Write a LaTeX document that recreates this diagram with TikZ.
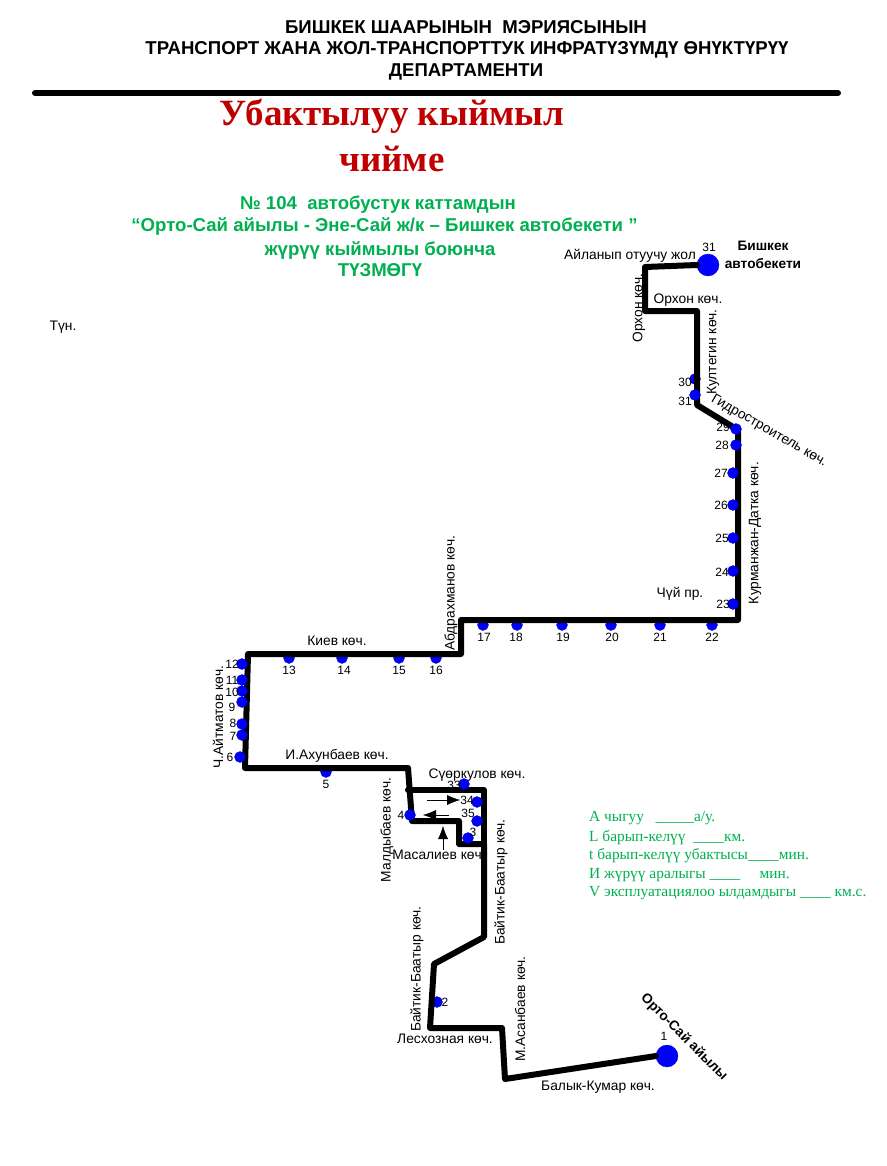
\documentclass[tikz,border=0pt]{standalone}
\usepackage{fontspec}
\setmainfont{Liberation Sans}
\newfontfamily\serifcy{Liberation Serif}
\usepackage{xcolor}
\usepackage{tikz}
\usetikzlibrary{
    arrows.meta
}
\definecolor{routegreen}{RGB}{0,176,80}
\definecolor{titlered}{RGB}{192,0,0}
\definecolor{stopblue}{RGB}{0,0,255}

\begin{document}
\begin{tikzpicture}[
x=1pt,
y=-1pt,
route/.style={
draw,
line width=6pt,
line join=round,
line cap=round
},
stopdot/.style={
circle,
draw=blue!70!black,
line width=0.3pt,
fill=stopblue,
inner sep=0pt,
minimum size=11pt
},
enddot/.style={
stopdot,
minimum size=22pt
},
num/.style={
font=\fontsize{12}{12}\selectfont,
inner sep=0pt
},
street/.style={
font=\fontsize{13.8}{13.8}\selectfont,
inner sep=0pt
},
head/.style={
font=\fontsize{18.6}{18.6}\selectfont\bfseries,
inner sep=0pt,
anchor=base
},
big/.style={
font=\fontsize{37}{37}\selectfont\bfseries\serifcy,
text=titlered,
inner sep=0pt,
anchor=base
},
sub/.style={
font=\fontsize{18.6}{18.6}\selectfont\bfseries,
text=routegreen,
inner sep=0pt,
anchor=base
},
legend/.style={
font=\fontsize{15.4}{15.4}\selectfont\serifcy,
text=routegreen,
inner sep=0pt,
anchor=west
},
place/.style={
font=\fontsize{13.7}{13.7}\selectfont\bfseries,
inner sep=0pt
},
pointer/.style={
-{Latex[length=13pt,width=10pt]}
}
]
\useasboundingbox (0,0) rectangle (886,1166);

% header
\node[head] (h1) at (466,34) {БИШКЕК ШААРЫНЫН\ \ МЭРИЯСЫНЫН};
\node[head] (h2) at (467,55) {ТРАНСПОРТ ЖАНА ЖОЛ-ТРАНСПОРТТУК ИНФРАТҮЗҮМДҮ ӨНҮКТҮРҮҮ};
\node[head] (h3) at (466,77) {ДЕПАРТАМЕНТИ};
\coordinate (ruleL) at (35,93);
\coordinate (ruleR) at (838,93);
\draw[route] (ruleL) -- (ruleR);

\node[big] (t1) at (392,126) {Убактылуу кыймыл};
\node[big] (t2) at (392,172) {чийме};

\node[sub] (s1) at (378,210) {№ 104\ \ автобустук каттамдын};
\node[sub] (s2) at (384.5,232) {“Орто-Сай айылы - Эне-Сай ж/к – Бишкек автобекети ”};
\node[sub] (s3) at (380,255) {жүрүү кыймылы боюнча};
\node[sub] (s4) at (380,276) {ТҮЗМӨГҮ};

\node[street] (night) at (63,327) {Түн.};

% route corners
\foreach \name/\px/\py in {
a/505/1079, b/502/1028, c/430/1028, d/434/964, e/484/937,
f/484/844, g/459/844, h/459/821, i/412/821, j/408/768,
k/245/768, l/248/654, m/461/654, n/461/620, o/738/620,
p/738/430, q/697/405, r/697/311, s/645/311, u/645/267,
v/484/790, w/408/790}
\coordinate (\name) at (\px,\py);

% end stops
\node[enddot] (stop1) at (667,1056) {};
\node[enddot] (stop31) at (708,265) {};

% stops under the line
\foreach \n/\px/\py in {
2/437/1002, 5/326/772, 13/289/658, 14/342/658, 15/399/658, 16/436/658,
17/483/625, 18/517/625, 19/562/625, 20/611/625, 21/660/625, 22/712/625,
30/695/379}
\node[stopdot] (stop\n) at (\px,\py) {};

\draw[route] (stop1.west) -- (a) -- (b) -- (c) -- (d) -- (e) -- (f) -- (g) -- (h) -- (i) -- (j) -- (k) -- (l) -- (m) -- (n) -- (o) -- (p) -- (q) -- (r) -- (s) -- (u) -- (stop31.west);
\draw[route] (f) -- (v) -- (w);

% stops over the line
\foreach \n/\px/\py in {
3/468/838, 4/410/815, 6/240/757, 7/242/735, 8/242/724, 9/242/702,
10/242/691, 11/242/680, 12/242/664, 23/733/604, 24/733/571, 25/733/538,
26/733/505, 27/733/473, 28/736/445, 29/736/429, 32/695/395,
33/464/784, 34/477/802, 35/477/821}
\node[stopdot] (stop\n) at (\px,\py) {};

\foreach \n/\lx/\ly in {
2/445/1002, 3/473/832, 4/401/815, 5/326/784, 6/230/757, 7/233/736,
8/233/723, 9/232/707, 10/232/692, 11/232/680, 12/232/664, 13/289/670,
14/344/670, 15/399/670, 16/436/670, 17/484/637, 18/516/637, 19/563/637,
20/612/637, 21/660/637, 22/712/637, 23/723/604, 24/722/572, 25/722/538,
26/721/505, 27/721/473, 28/722/445, 29/723/427, 30/685/382, 33/454/785,
34/467/800, 35/468/813}
\node[num] (lab\n) at (\lx,\ly) {\n};

\node[num] (labA) at (685,401) {31};
\node[num] (labB) at (709,247) {31};
\node[num] (labC) at (664,1036) {1};

% direction arrows
\coordinate (ar1a) at (427,800);
\coordinate (ar1b) at (460,800);
\coordinate (ar2a) at (449,815);
\coordinate (ar2b) at (423,815);
\coordinate (ar3a) at (443,850);
\coordinate (ar3b) at (443,826);
\draw[pointer] (ar1a) -- (ar1b);
\draw[pointer] (ar2a) -- (ar2b);
\draw[pointer] (ar3a) -- (ar3b);

% streets
\node[street] (st1) at (630,256) {Айланып отуучу жол};
\node[street,rotate=90] (st2) at (639,308) {Орхон көч.};
\node[street] (st3) at (688,300) {Орхон көч.};
\node[street,rotate=90] (st4) at (713,352) {Култегин көч.};
\node[street,rotate=-30] (st5) at (769,431) {Гидростроитель көч.};
\node[street,rotate=90] (st6) at (755,533) {Курманжан-Датка көч.};
\node[street] (st7) at (680,594) {Чүй пр.};
\node[street,rotate=90] (st8) at (451,593) {Абдрахманов көч.};
\node[street] (st9) at (337,641) {Киев көч.};
\node[street,rotate=90] (st10) at (218,717) {Ч.Айтматов көч.};
\node[street] (st11) at (337,756) {И.Ахунбаев көч.};
\node[street] (st12) at (477,775) {Сүөркулов көч.};
\node[street,rotate=90] (st13) at (387,830) {Малдыбаев көч.};
\node[street] (st14) at (437,855) {Масалиев көч};
\node[street,rotate=90] (st15) at (501,882) {Байтик-Баатыр көч.};
\node[street,rotate=90] (st16) at (417,969) {Байтик-Баатыр көч.};
\node[street,rotate=90] (st17) at (520,1009) {М.Асанбаев көч.};
\node[street] (st18) at (445,1039) {Лесхозная көч.};
\node[street] (st19) at (598,1087) {Балык-Кумар көч.};

% places
\node[place] (pl1) at (763,246) {Бишкек};
\node[place] (pl2) at (763,264) {автобекети};
\node[place,rotate=-45] (pl3) at (684,1037) {Орто-Сай айылы};

% legend
\node[legend] (leg1) at (589,818) {А чыгуу\ \ \ \_\_\_\_\_а/у.};
\node[legend] (leg2) at (589,838) {L барып-келүү\ \ \_\_\_\_км.};
\node[legend] (leg3) at (589,856) {t барып-келүү убактысы\_\_\_\_мин.};
\node[legend] (leg4) at (589,875) {И жүрүү аралыгы \_\_\_\_\ \ \ \ \ мин.};
\node[legend] (leg5) at (589,893) {V эксплуатациялоо ылдамдыгы \_\_\_\_ км.с.};

\end{tikzpicture}
\end{document}
